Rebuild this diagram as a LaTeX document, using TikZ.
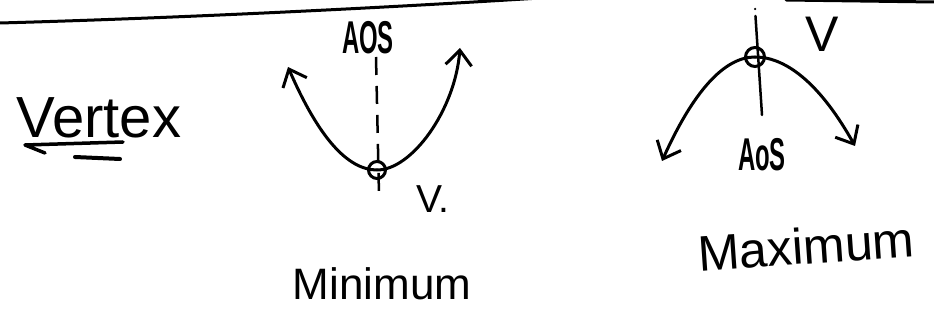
\documentclass[tikz,border=0pt]{standalone}
\usepackage{fontspec}
\setmainfont{Liberation Sans}
\usetikzlibrary{arrows.meta}
\tikzset{
  pen/.style={line width=3pt, line cap=round, line join=round},
  branch/.style={pen, -{Straight Barb[length=15pt,width=26pt]}},
  vtx/.style={circle, draw, line width=3pt, minimum size=17pt, inner sep=0pt},
  hand/.style={font=\fontsize{#1}{#1}\selectfont, inner sep=0pt},
}
\newcommand{\narrow}[1]{\scalebox{0.52}[1]{\bfseries #1}}

\begin{document}
\begin{tikzpicture}[x=1pt,y=-1pt]
\useasboundingbox (0,0) rectangle (934,328);

% ruled line at the top of the page
\draw[pen] (0,23) .. controls (180,18) and (380,8) .. (540,-2);
\draw[pen] (786,0) -- (934,2);

% heading
\node[hand=58] (title) at (99,118) {Vertex};
\draw[pen, line width=3.5pt] (45,153) -- (25,145) -- (123,142);
\draw[pen, line width=4pt] (75,157) -- (120,159);

% opening up: minimum
\node[vtx] (vmin) at (377,170) {};
\coordinate (minL) at (288,67);
\coordinate (minR) at (460,48);
\draw[branch] (vmin.center) .. controls (347,170) and (318,136) .. (minL);
\draw[branch] (vmin.center) .. controls (412,170) and (455,110) .. (minR);

\node[hand=46] (aosmin) at (368,38) {\narrow{AOS}};
\coordinate (axminT) at (376,57);
\coordinate (axminB) at (379,195);
\draw[line width=2.5pt, dash pattern=on 18pt off 11pt] (axminT) -- (axminB);
\node[hand=39] (vminlbl) at (433,199) {V.};

% opening down: maximum
\node[vtx, minimum size=19pt] (vmax) at (755,57) {};
\coordinate (maxL) at (662,161);
\coordinate (maxR) at (855,146);
\draw[branch] (vmax.center) .. controls (724,57) and (693,92) .. (maxL);
\draw[branch] (vmax.center) .. controls (788,57) and (822,87) .. (maxR);

\node[hand=46] (aosmax) at (762,155) {\narrow{AoS}};
\coordinate (axmaxT) at (755,9);
\coordinate (axmaxB) at (762,115);
\draw[line width=2.5pt, line cap=round, dash pattern=on 0pt off 7pt on 200pt] (axmaxT) -- (axmaxB);
\node[hand=50] (vmaxlbl) at (822,34) {V};

% captions
\node[hand=44] (minword) at (382,284) {Minimum};
\node[hand=50, rotate=4] (maxword) at (806,246) {Maximum};
\end{tikzpicture}
\end{document}
